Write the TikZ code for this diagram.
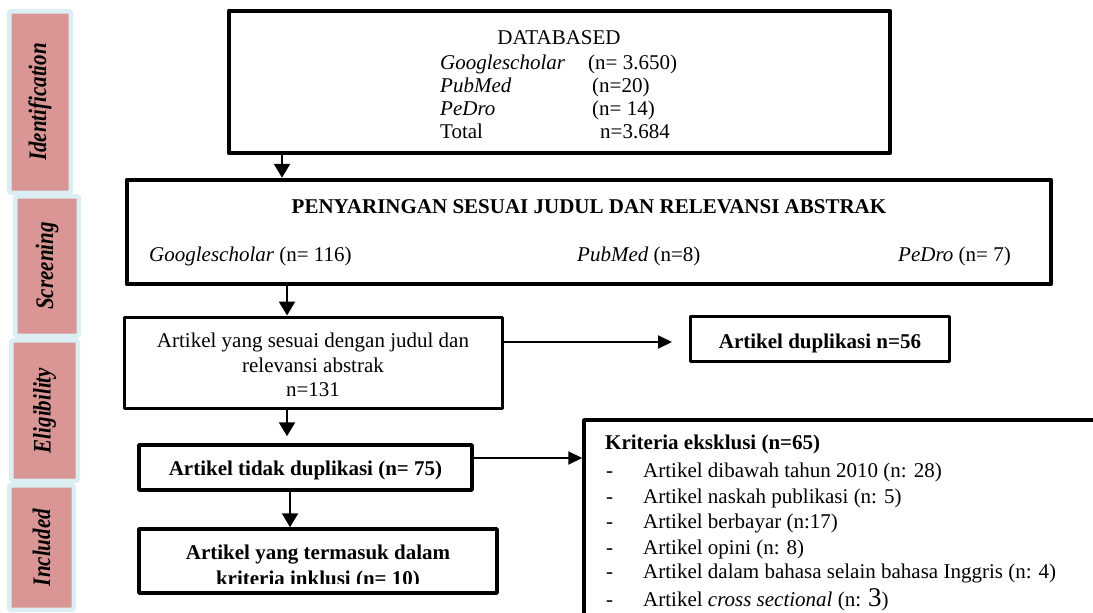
\documentclass[tikz,border=0pt]{standalone}
\usepackage{fontspec}
\setmainfont{Liberation Serif}
\usetikzlibrary{arrows.meta}
\definecolor{phasepink}{HTML}{D99694}
\definecolor{phaseblue}{HTML}{DAEEF3}
\newcommand{\phaselabel}[1]{\rotatebox{90}{\scalebox{1}[1.2]{\bfseries\itshape #1}}}
\begin{document}
\begin{tikzpicture}[x=1pt,y=-1pt,
  every node/.style={font=\fontsize{21}{24}\selectfont},
  phase/.style={draw=phaseblue, fill=phasepink, line width=4.5pt, rounded corners=1.5pt, inner sep=0pt},
  boxthick/.style={draw, line width=4.5pt, inner sep=0pt, line join=round},
  boxmid/.style={draw, line width=3.5pt, inner sep=0pt, line join=round},
  boxthin/.style={draw, line width=3pt, inner sep=0pt, line join=round},
  txt/.style={anchor=base west, inner sep=0pt},
  ctxt/.style={anchor=base, inner sep=0pt},
  varr/.style={line width=2.5pt, -{Triangle[width=16pt,length=14pt]}},
  harr/.style={line width=2pt, -{Triangle[width=13pt,length=14pt]}}
]
\clip (0,0) rectangle (1093,613);
\fill[white] (0,0) rectangle (1093,613);

% phase labels
\node[phase, minimum width=61.5pt, minimum height=181.5pt] (pid) at (40,102)
  {\phaselabel{Identification}};
\node[phase, minimum width=63.5pt, minimum height=139.5pt] (pscr) at (47,266)
  {\phaselabel{Screening}};
\node[phase, minimum width=66.5pt, minimum height=140.5pt] (pel) at (44.5,410.5)
  {\phaselabel{Eligibility}};
\node[phase, minimum width=64.5pt, minimum height=124.5pt] (pinc) at (41.5,547.5)
  {\phaselabel{Included}};

% boxes
\node[boxthick, minimum width=661pt, minimum height=142pt] (box1) at (559.5,82) {};
\node[boxthick, minimum width=924pt, minimum height=104pt] (box2) at (589,232) {};
\node[boxthin, minimum width=378pt, minimum height=91pt] (box3) at (313,362.5) {};
\node[boxthin, minimum width=259pt, minimum height=45pt] (dup) at (820,339) {};
\node[boxmid, minimum width=333pt, minimum height=45pt] (box4) at (305.5,467.5) {};
\node[boxmid, minimum width=358pt, minimum height=64pt] (box5) at (318,561) {};
\node[boxmid, minimum width=526pt, minimum height=220pt] (excl) at (847,530) {};

% box1 text
\node[ctxt] (t1) at (559,45) {DATABASED};
\node[txt] (t1a) at (440,69) {\makebox[148pt][l]{\itshape Googlescholar}(n= 3.650)};
\node[txt] (t1b) at (440,92) {\makebox[152pt][l]{\itshape PubMed}(n=20)};
\node[txt] (t1c) at (440,115) {\makebox[152pt][l]{\itshape PeDro}(n= 14)};
\node[txt] (t1d) at (440,138) {\makebox[160pt][l]{Total}n=3.684};

% box2 text
\node[ctxt] (t2) at (589,213) {\bfseries PENYARINGAN SESUAI JUDUL DAN RELEVANSI ABSTRAK};
\node[txt] (t2a) at (149,261) {\textit{Googlescholar} (n= 116)};
\node[txt] (t2b) at (577,261) {\textit{PubMed} (n=8)};
\node[txt] (t2c) at (898,261) {\textit{PeDro} (n= 7)};

% box3 text
\node[ctxt] (t3a) at (313,347) {Artikel yang sesuai dengan judul dan};
\node[ctxt] (t3b) at (313,372) {relevansi abstrak};
\node[ctxt] (t3c) at (313,396) {n=131};

% dup text
\node[ctxt] (td) at (820,348) {\bfseries Artikel duplikasi n=56};

% box4 text
\node[ctxt] (t4) at (305.5,475) {\bfseries Artikel tidak duplikasi (n= 75)};

% box5 text (second line cut off)
\node[ctxt] (t5a) at (318,559) {\bfseries Artikel yang termasuk dalam};
\begin{scope}
  \clip (140,565) rectangle (496,583);
  \node[ctxt] (t5b) at (318,585) {\bfseries kriteria inklusi (n= 10)};
\end{scope}

% exclusion text
\node[txt] (te) at (605,449) {\bfseries Kriteria eksklusi (n=65)};
\node[txt] (te1) at (606,477) {\makebox[37pt][l]{-}Artikel dibawah tahun 2010 (n: 28)};
\node[txt] (te2) at (606,503) {\makebox[37pt][l]{-}Artikel naskah publikasi (n: 5)};
\node[txt] (te3) at (606,528) {\makebox[37pt][l]{-}Artikel berbayar (n:17)};
\node[txt] (te4) at (606,554) {\makebox[37pt][l]{-}Artikel opini (n: 8)};
\node[txt] (te5) at (606,578) {\makebox[37pt][l]{-}Artikel dalam bahasa selain bahasa Inggris (n: 4)};
\node[txt] (te6) at (606,606) {\makebox[37pt][l]{-}Artikel \textit{cross sectional} (n: {\fontsize{27}{27}\selectfont 3})};

% connectors
\coordinate (xa) at (282,0);
\coordinate (xb) at (287,0);
\coordinate (xe) at (290,0);
\coordinate (yc) at (0,342);
\coordinate (yd) at (0,458);
\draw[varr] (box1.south -| xa) -- (box2.north -| xa);
\draw[varr] (box2.south -| xb) -- (box3.north -| xb);
\draw[harr, shorten >=17pt] (box3.east |- yc) -- (dup.west |- yc);
\draw[varr, shorten >=7pt] (box3.south -| xb) -- (box4.north -| xb);
\draw[harr] (box4.east |- yd) -- (excl.west |- yd);
\draw[varr] (box4.south -| xe) -- (box5.north -| xe);
\end{tikzpicture}
\end{document}
